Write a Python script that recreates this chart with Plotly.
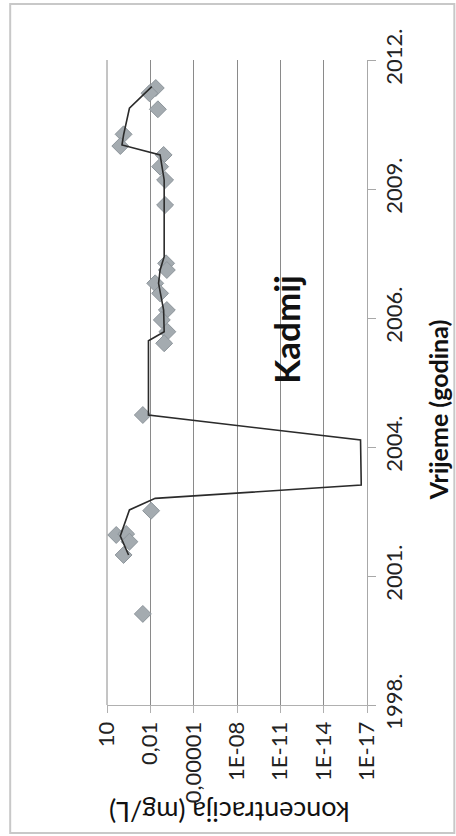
import plotly.graph_objects as go

# ---- data ----
line_dates = ["2011-09-07", "2011-03-24", "2010-08-29", "2010-06-12", "2010-03-27",
              "2009-09-14", "2008-01-28", "2007-12-08", "2007-10-17", "2007-07-06",
              "2007-02-27", "2006-12-11", "2006-06-26", "2006-04-17", "2004-09-18",
              "2004-03-08", "2003-03-25", "2002-12-12", "2002-09-13", "2002-02-23",
              "2001-09-29"]
line_values = [0.0079, 0.28, 0.71, 0.92, 0.0021,
               0.0011, 0.0011, 0.0016, 0.0021, 0.0027,
               0.0016, 0.0012, 0.0011, 0.0135, 0.0135,
               2.8e-17, 2.5e-17, 0.0046, 0.28, 1.2,
               0.32]

point_dates = ["2011-08-28", "2011-07-18", "2011-03-16", "2010-09-03", "2010-06-04",
               "2010-03-27", "2009-12-26", "2009-09-14", "2009-03-04", "2007-12-08",
               "2007-10-17", "2007-07-06", "2007-04-19", "2006-12-11", "2006-09-25",
               "2006-06-26", "2006-03-28", "2004-09-18", "2002-09-07", "2002-03-03",
               "2002-03-11", "2002-01-10", "2001-09-29", "2000-06-29"]
point_values = [0.0042, 0.0115, 0.003, 0.71, 1.2,
                0.0012, 0.0021, 0.00095, 0.00095, 0.00081,
                0.00072, 0.0046, 0.0021, 0.00072, 0.0016,
                0.00066, 0.0011, 0.033, 0.0088, 2.3,
                0.47, 0.28, 0.71, 0.033]

conc_tickvals = [10, 0.01, 1e-5, 1e-8, 1e-11, 1e-14, 1e-17]
conc_ticktext = ["10", "0,01", "0,00001", "1E-08", "1E-11", "1E-14", "1E-17"]

year_tickvals = ["1998-07-24", "2001-04-19", "2004-01-14", "2006-10-10", "2009-07-06", "2012-04-01"]
year_ticktext = ["1998.", "2001.", "2004.", "2006.", "2009.", "2012."]

title_text = "Kadmij"
conc_title = "koncentracija (mg/L)"
time_title = "Vrijeme (godina)"

# ---- layout geometry (pixels) ----
W, H = 456, 836
L, R, T, B = 107, 367.5, 60, 705
pw, ph = R - L, B - T


def px(x):
    return (x - L) / pw


def py(y):
    return (B - y) / ph


fig = go.Figure()
fig.add_trace(go.Scatter(
    x=point_values, y=point_dates, mode="markers",
    marker=dict(symbol="diamond", size=13, color="#a4abb0",
                line=dict(color="#8d959b", width=1)),
    showlegend=False, hoverinfo="x+y"))
fig.add_trace(go.Scatter(
    x=line_values, y=line_dates, mode="lines",
    line=dict(color="#2b2b2b", width=1.6),
    showlegend=False, hoverinfo="x+y"))

tick_font = dict(family="Lato, 'DejaVu Sans', sans-serif", size=22, color="#222222")

fig.update_layout(
    width=W, height=H,
    margin=dict(l=L, r=W - R, t=T, b=H - B),
    paper_bgcolor="white", plot_bgcolor="white",
    xaxis=dict(
        type="log", range=[1, -17],
        tickmode="array", tickvals=conc_tickvals, ticktext=conc_ticktext,
        tickangle=-90, tickfont=tick_font,
        showgrid=True, gridcolor="#8a8a8a", gridwidth=1,
        showline=True, linecolor="#b0b0b0", linewidth=1,
        ticks="outside", ticklen=7, tickcolor="#b0b0b0",
        zeroline=False, fixedrange=True,
    ),
    yaxis=dict(
        type="date", side="right",
        range=[year_tickvals[0], year_tickvals[-1]],
        tickmode="array", tickvals=year_tickvals, ticktext=year_ticktext,
        tickangle=-90, tickfont=tick_font,
        showgrid=False,
        showline=True, linecolor="#a8a8a8", linewidth=1,
        ticks="outside", ticklen=8, tickcolor="#a8a8a8",
        zeroline=False, fixedrange=True,
    ),
    shapes=[
        dict(type="rect", xref="paper", yref="paper",
             x0=px(10), x1=px(455), y0=py(833), y1=py(4),
             line=dict(color="#c8c8c8", width=2), fillcolor="rgba(0,0,0,0)", layer="below"),
        dict(type="line", xref="paper", yref="paper",
             x0=0, x1=0, y0=0, y1=1,
             line=dict(color="#8a8a8a", width=1)),
    ],
    annotations=[
        dict(text=title_text, textangle=-90, xref="paper", yref="paper",
             x=px(286), y=py(329), xanchor="center", yanchor="middle", showarrow=False,
             font=dict(family="Lato, sans-serif", size=35, color="#111111", weight="bold")),
        dict(text=time_title, textangle=-90, xref="paper", yref="paper",
             x=px(439), y=py(410), xanchor="center", yanchor="middle", showarrow=False,
             font=dict(family="Lato, sans-serif", size=25, color="#111111", weight="bold")),
        dict(text=conc_title, textangle=180, xref="paper", yref="paper",
             x=px(229), y=py(813), xanchor="center", yanchor="middle", showarrow=False,
             font=dict(family="Lato, sans-serif", size=27, color="#111111")),
    ],
)

fig.write_html(
    "out.html",
    config={"displayModeBar": False},
    post_script="document.body.style.margin='0';document.body.style.padding='0';"
                "document.documentElement.style.overflow='hidden';",
)
